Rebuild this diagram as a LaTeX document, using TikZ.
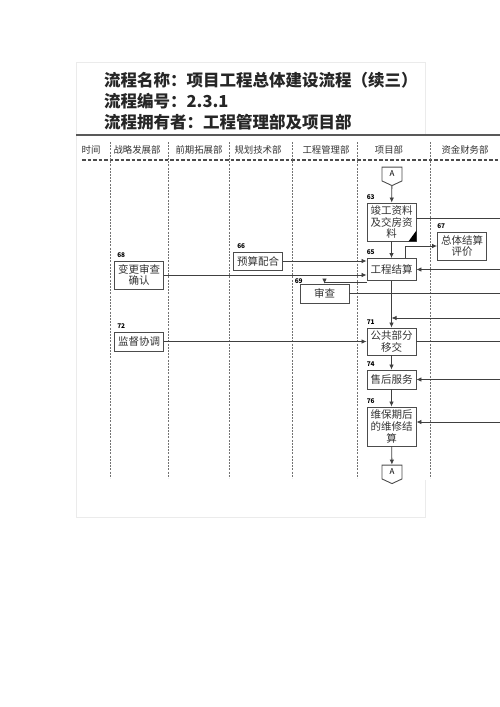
\documentclass[tikz,border=0pt]{standalone}
\usepackage{fontspec}
\setmainfont{Noto Sans CJK SC}
\usetikzlibrary{arrows.meta,shapes.symbols,positioning}

\newcommand\ttlfont{\fontsize{16.5}{21}\selectfont\bfseries}
\newcommand\hdfont{\fontsize{9.4}{11}\selectfont}
\newcommand\bxfont{\fontsize{10.5}{11.7}\selectfont}
\newcommand\lblfont{\fontsize{6.5}{7}\selectfont\bfseries}

\tikzset{
  box/.style={draw=black!70, line width=0.9pt, fill=white, align=center,
    font=\bxfont, text=black!80, inner sep=1.5pt, text width=46pt},
  num/.style={font=\lblfont, inner sep=0pt},
  link/.style={draw=black!75, line width=0.8pt},
  arr/.style={link, -{Latex[length=5pt,width=4.5pt]}},
  lane/.style={draw=black!55, line width=0.8pt, dash pattern=on 2pt off 1.2pt},
  offpage/.style={draw=black!70, line width=0.9pt, fill=white, signal,
    signal to=south, signal pointer angle=130, minimum width=20pt,
    minimum height=15pt, inner sep=0pt, font=\fontsize{8}{9}\selectfont},
  hd/.style={font=\hdfont, text=black!80, inner sep=0pt}
}

\begin{document}
\begin{tikzpicture}[x=1pt,y=-1pt]
  \useasboundingbox (0,0) rectangle (500,707);

  % panel
  \draw[black!8, line width=1pt] (425,135) -- (425,62) -- (76,62) -- (76,517)
    -- (425,517) -- (425,480);

  % title
  \node[anchor=west, font=\ttlfont, text=black!85, inner sep=0pt] (t1) at (104,80) {流程名称：项目工程总体建设流程（续三）};
  \node[anchor=west, font=\ttlfont, text=black!85, inner sep=0pt] (t2) at (104,101) {流程编号：2.3.1};
  \node[anchor=west, font=\ttlfont, text=black!85, inner sep=0pt] (t3) at (104,122) {流程拥有者：工程管理部及项目部};
  \draw[black!65, line width=2.5pt] (76,135) -- (500,135);

  % header
  \node[hd] (h0) at (91,150) {时间};
  \node[hd] (h1) at (137,150) {战略发展部};
  \node[hd] (h2) at (199,150) {前期拓展部};
  \node[hd] (h3) at (258,150) {规划技术部};
  \node[hd] (h4) at (326,150) {工程管理部};
  \node[hd] (h5) at (389,150) {项目部};
  \node[hd] (h6) at (465,150) {资金财务部};
  \draw[black!70, line width=1.2pt, dash pattern=on 3.5pt off 2pt] (82,160) -- (500,160);

  % lanes
  \foreach \x in {110,168,229,292,357,430}
    \draw[lane] (\x,142) -- (\x,478);

  % project lane
  \node[offpage] (A1) at (392,174) {A};
  \node[box, minimum height=38pt] (n63) at (391.5,222) {竣工资料\\及交房资\\料};
  \node[box, minimum height=22pt] (n65) at (391.5,269.5) {工程结算};
  \node[box, minimum height=27pt] (n71) at (391.5,341.5) {公共部分\\移交};
  \node[box, minimum height=19pt] (n74) at (391.5,379.5) {售后服务};
  \node[box, minimum height=39pt] (n76) at (391.5,426.5) {维保期后\\的维修结\\算};
  \node[offpage] (A2) at (392,472) {A};

  % other lanes
  \node[box, text width=46pt, minimum height=28pt] (n67) at (462,246) {总体结算\\评价};
  \node[box, minimum height=28pt] (n68) at (139,275) {变更审查\\确认};
  \node[box, minimum height=18pt] (n66) at (258,261) {预算配合};
  \node[box, minimum height=19pt] (n69) at (324.5,293.5) {审查};
  \node[box, minimum height=19pt] (n72) at (139,341.5) {监督协调};

  % numbers
  \node[num, above right=3pt and 0pt of n63.north west] {63};
  \node[num, above right=3pt and 0pt of n65.north west] {65};
  \node[num, above right=3pt and 0pt of n67.north west] {67};
  \node[num, above right=3pt and 3pt of n68.north west] {68};
  \node[num, above right=3pt and 4pt of n66.north west] {66};
  \node[num, above right=0pt and -5pt of n69.north west] {69};
  \node[num, above right=3pt and 0pt of n71.north west] {71};
  \node[num, above right=3pt and 3pt of n72.north west] {72};
  \node[num, above right=3pt and 0pt of n74.north west] {74};
  \node[num, above right=3pt and 0pt of n76.north west] {76};

  % data mark
  \fill[black] (n63.south east) -- ++(0,-11) -- ++(-8,11) -- cycle;

  % free ends on the right
  \coordinate (e63) at (500,218);
  \coordinate (e65) at (500,269.5);
  \coordinate (e69) at (500,293.5);
  \coordinate (e70) at (500,318);
  \coordinate (e71) at (500,341.5);
  \coordinate (e74) at (500,379.5);
  \coordinate (e76) at (500,422);

  % connectors
  \draw[arr] (A1) -- (n63);
  \draw[link] (e63 -| n63.east) -- (e63);
  \draw[arr] (n63) -- (n65);
  \draw[arr] ([xshift=13.5pt]n65.north) |- (n67.west);
  \draw[arr] (e65) -- (n65.east);
  \draw[arr] (n66.east) -- (n66.east -| n65.west);
  \draw[arr] (n68.east) -- (n68.east -| n65.west);
  \draw[arr] ([yshift=-1pt]n65.south west) -| (n69.north);
  \draw[link] (n69.east) -- (e69);
  \draw[arr] (n65) -- (n71);
  \draw[arr] (e70) -- (e70 -| n71.north);
  \draw[arr] (n72.east) -- (n71.west);
  \draw[link] (n71.east) -- (e71);
  \draw[arr] (n71) -- (n74);
  \draw[arr] (e74) -- (n74.east);
  \draw[arr] (n74) -- (n76);
  \draw[arr] (e76) -- (e76 -| n76.east);
  \draw[arr] (n76) -- (A2);

\end{tikzpicture}
\end{document}
